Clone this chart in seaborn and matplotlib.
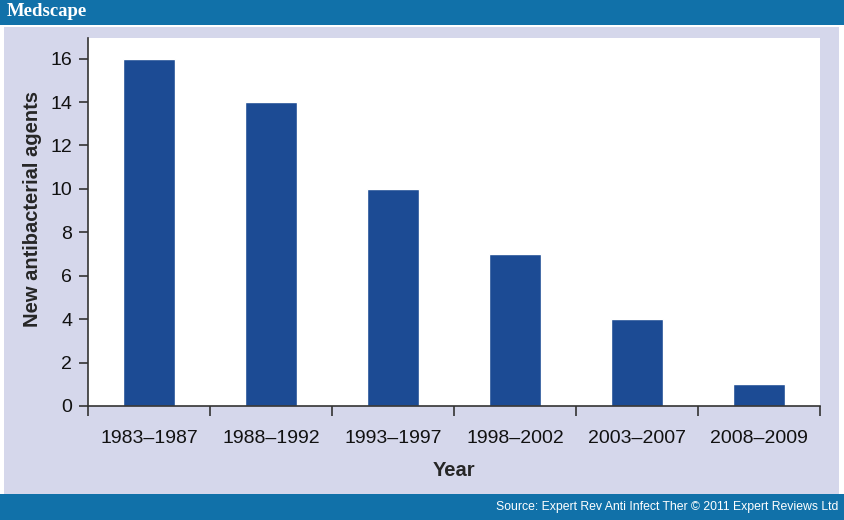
import numpy as np
import pandas as pd
import matplotlib
matplotlib.use('Agg')
import matplotlib.pyplot as plt
import seaborn as sns
from matplotlib.patches import Rectangle

# chart data
periods = ['1983–1987', '1988–1992', '1993–1997', '1998–2002', '2003–2007', '2008–2009']
agents = [16, 14, 10, 7, 4, 1]
y_ticks = [0, 2, 4, 6, 8, 10, 12, 14, 16]

df = pd.DataFrame({'period': periods, 'agents': agents})

sns.set_style('white')
plt.rcParams['font.family'] = ['Liberation Sans', 'DejaVu Sans']

banner = '#1171a9'
panel = '#d5d7eb'
bar_color = '#1c4b94'

fig = plt.figure(figsize=(8.44, 5.2), dpi=100)
fig.patch.set_facecolor('white')

# banners and lavender panel (behind the axes)
fig.patches.append(Rectangle((0, 495 / 520), 1, 25 / 520, transform=fig.transFigure,
                             facecolor=banner, edgecolor='none', zorder=-5))
fig.patches.append(Rectangle((0, 0), 1, 26 / 520, transform=fig.transFigure,
                             facecolor=banner, edgecolor='none', zorder=-5))
fig.patches.append(Rectangle((4 / 844, 26 / 520), 835 / 844, 467 / 520, transform=fig.transFigure,
                             facecolor=panel, edgecolor='none', zorder=-5))

fig.text(7 / 844, 1 - 12 / 520, 'Medscape', color='white', fontsize=13.5, fontweight='bold',
         family=['Liberation Serif', 'DejaVu Serif'], va='center', ha='left')
fig.text(838 / 844, 13 / 520, 'Source: Expert Rev Anti Infect Ther © 2011 Expert Reviews Ltd',
         color='white', fontsize=8.8, va='center', ha='right')

ax = fig.add_axes([88 / 844, 1 - 406 / 520, 732 / 844, 368 / 520])
ax.set_zorder(2)
ax.set_facecolor('white')
sns.barplot(data=df, x='period', y='agents', color=bar_color, width=0.43,
            saturation=1, ax=ax)

ax.set_xlim(-0.5, len(periods) - 0.5)
ax.set_ylim(0, 16.95)
ax.set_yticks(y_ticks)

# category boundaries get the tick marks, labels sit in the middle
ax.set_xticks(np.arange(-0.5, len(periods), 1.0), minor=True)
ax.tick_params(axis='x', which='major', length=0, pad=17, labelsize=14, colors='#111111')
ax.tick_params(axis='x', which='minor', length=7, width=1.2, color='#333333', direction='out')
ax.tick_params(axis='y', which='major', length=6.5, width=1.2, color='#333333',
               direction='out', pad=5, labelsize=14, labelcolor='#111111')
ax.tick_params(axis='x', which='both', bottom=True)
ax.tick_params(axis='y', left=True)

for side in ['top', 'right']:
    ax.spines[side].set_visible(False)
for side in ['left', 'bottom']:
    ax.spines[side].set_color('#333333')
    ax.spines[side].set_linewidth(1.2)

ax.set_xlabel('Year', fontsize=14.5, fontweight='bold', labelpad=10)
ax.set_ylabel('New antibacterial agents', fontsize=14.5, fontweight='bold')
ax.yaxis.set_label_coords(-0.063, 0.535)

fig.savefig('out.png', dpi=100, facecolor=fig.get_facecolor())
